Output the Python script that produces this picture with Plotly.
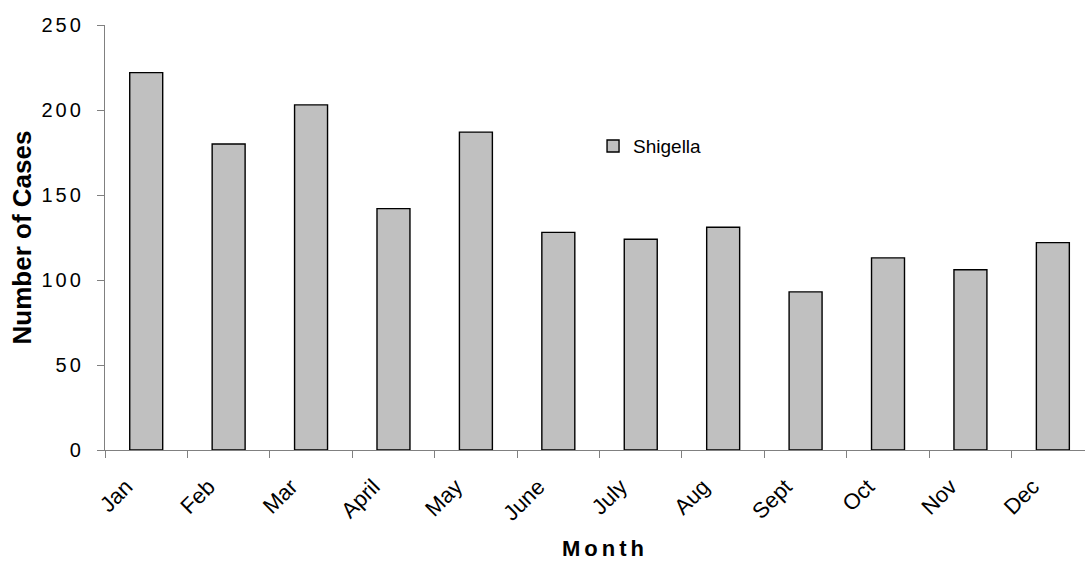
import plotly.graph_objects as go

# Monthly Shigella case counts
months = ["Jan", "Feb", "Mar", "April", "May", "June",
          "July", "Aug", "Sept", "Oct", "Nov", "Dec"]
shigella_cases = [222, 180, 203, 142, 187, 128, 124, 131, 93, 113, 106, 122]
y_ticks = [0, 50, 100, 150, 200, 250]

FONT = "Liberation Sans, Arial, sans-serif"
AXIS_GRAY = "#808080"

fig = go.Figure()
fig.add_trace(go.Bar(
    x=months,
    y=shigella_cases,
    name="Shigella",
    width=0.4,
    marker=dict(color="#C0C0C0", line=dict(color="#000000", width=1.4)),
))

fig.update_layout(
    width=1085,
    height=561,
    margin=dict(l=105, r=0, t=25, b=111),
    paper_bgcolor="white",
    plot_bgcolor="white",
    font=dict(family=FONT, color="black"),
    showlegend=True,
    legend=dict(
        x=0.498, y=0.715, xanchor="left", yanchor="middle",
        bgcolor="rgba(0,0,0,0)",
        font=dict(size=19, family=FONT, color="black"),
        itemwidth=30,
    ),
    bargap=0.6,
)

fig.update_xaxes(
    type="category",
    range=[-0.5, 11.39],
    showline=True, linecolor=AXIS_GRAY, linewidth=1.3,
    ticks="outside", tickson="boundaries", ticklen=7,
    tickcolor=AXIS_GRAY, tickwidth=1.3,
    tickangle=-45,
    tickfont=dict(size=22, family=FONT),
    ticklabelshift=-20,
    ticklabelstandoff=14,
    showgrid=False, zeroline=False,
    title=dict(text="<b>Month</b>", font=dict(size=22, family=FONT), standoff=20),
)

fig.update_yaxes(
    range=[0, 250],
    tickvals=y_ticks,
    showline=True, linecolor=AXIS_GRAY, linewidth=1.3,
    ticks="outside", ticklen=7, tickcolor=AXIS_GRAY, tickwidth=1.3,
    tickfont=dict(size=20, family=FONT),
    ticklabelstandoff=9,
    showgrid=False, zeroline=False,
    title=dict(text="<b>Number of Cases</b>", font=dict(size=26, family=FONT), standoff=11),
)

# Slightly widen the letter spacing of the tick numbers and the x title
spacing_js = """
var gd = document.getElementById('{plot_id}');
gd.querySelectorAll('.ytick text').forEach(function(t){ t.style.letterSpacing = '3px'; });
gd.querySelectorAll('.xtitle').forEach(function(t){
    t.style.letterSpacing = '4px';
    t.setAttribute('x', parseFloat(t.getAttribute('x')) + 10);
});
"""

fig.write_html("out.html", post_script=spacing_js)
